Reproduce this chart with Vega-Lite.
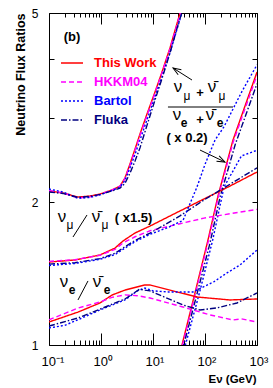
{
"$schema": "https://vega.github.io/schema/vega-lite/v6.json",
"width": 208, "height": 332,
"autosize": {"type": "none"},
"padding": {"left": 49, "top": 13, "right": 16, "bottom": 43},
"background": "white",
"config": {"view": {"stroke": null}, "font": "Liberation Sans",
  "axis": {"grid": false, "domainColor": "black", "tickColor": "black", "labelColor": "black", "titleColor": "black", "domainWidth": 1, "tickWidth": 1}},
"datasets": {
"curves": [
{"s":"This Work","g":"top","E":0.1,"v":2.11},{"s":"This Work","g":"top","E":0.186,"v":2.089},{"s":"This Work","g":"top","E":0.361,"v":2.049},{"s":"This Work","g":"top","E":0.614,"v":2.059},{"s":"This Work","g":"top","E":0.957,"v":2.079},{"s":"This Work","g":"top","E":1.627,"v":2.12},{"s":"This Work","g":"top","E":2.32,"v":2.161},{"s":"This Work","g":"top","E":2.89,"v":2.247},{"s":"This Work","g":"top","E":3.61,"v":2.405},{"s":"This Work","g":"top","E":4.51,"v":2.585},{"s":"This Work","g":"top","E":5.62,"v":2.781},{"s":"This Work","g":"top","E":7.66,"v":3.064},{"s":"This Work","g":"top","E":10.93,"v":3.409},{"s":"This Work","g":"top","E":14.9,"v":3.755},{"s":"This Work","g":"top","E":21.2,"v":4.22},{"s":"This Work","g":"top","E":30.3,"v":4.833},{"s":"This Work","g":"top","E":36.1,"v":5.17},
{"s":"HKKM04","g":"top","E":0.1,"v":2.115},{"s":"HKKM04","g":"top","E":0.186,"v":2.09},{"s":"HKKM04","g":"top","E":0.361,"v":2.04},{"s":"HKKM04","g":"top","E":0.614,"v":2.05},{"s":"HKKM04","g":"top","E":0.957,"v":2.075},{"s":"HKKM04","g":"top","E":1.627,"v":2.12},{"s":"HKKM04","g":"top","E":2.32,"v":2.16},{"s":"HKKM04","g":"top","E":2.89,"v":2.24},{"s":"HKKM04","g":"top","E":3.61,"v":2.39},{"s":"HKKM04","g":"top","E":4.51,"v":2.57},{"s":"HKKM04","g":"top","E":5.62,"v":2.76},{"s":"HKKM04","g":"top","E":7.66,"v":3.04},{"s":"HKKM04","g":"top","E":10.93,"v":3.39},{"s":"HKKM04","g":"top","E":14.9,"v":3.74},{"s":"HKKM04","g":"top","E":21.2,"v":4.2},{"s":"HKKM04","g":"top","E":30.3,"v":4.8},{"s":"HKKM04","g":"top","E":37,"v":5.2},
{"s":"Bartol","g":"top","E":0.1,"v":2.13},{"s":"Bartol","g":"top","E":0.186,"v":2.1},{"s":"Bartol","g":"top","E":0.361,"v":2.035},{"s":"Bartol","g":"top","E":0.614,"v":2.045},{"s":"Bartol","g":"top","E":0.957,"v":2.07},{"s":"Bartol","g":"top","E":1.627,"v":2.115},{"s":"Bartol","g":"top","E":2.32,"v":2.15},{"s":"Bartol","g":"top","E":2.89,"v":2.22},{"s":"Bartol","g":"top","E":3.61,"v":2.36},{"s":"Bartol","g":"top","E":4.51,"v":2.52},{"s":"Bartol","g":"top","E":5.62,"v":2.7},{"s":"Bartol","g":"top","E":7.66,"v":2.98},{"s":"Bartol","g":"top","E":10.93,"v":3.33},{"s":"Bartol","g":"top","E":14.9,"v":3.67},{"s":"Bartol","g":"top","E":21.2,"v":4.12},{"s":"Bartol","g":"top","E":30.3,"v":4.7},{"s":"Bartol","g":"top","E":40,"v":5.2},
{"s":"Fluka","g":"top","E":0.1,"v":2.1},{"s":"Fluka","g":"top","E":0.186,"v":2.085},{"s":"Fluka","g":"top","E":0.361,"v":2.045},{"s":"Fluka","g":"top","E":0.614,"v":2.055},{"s":"Fluka","g":"top","E":0.957,"v":2.075},{"s":"Fluka","g":"top","E":1.627,"v":2.11},{"s":"Fluka","g":"top","E":2.32,"v":2.14},{"s":"Fluka","g":"top","E":2.89,"v":2.19},{"s":"Fluka","g":"top","E":3.61,"v":2.3},{"s":"Fluka","g":"top","E":4.51,"v":2.44},{"s":"Fluka","g":"top","E":5.62,"v":2.6},{"s":"Fluka","g":"top","E":7.66,"v":2.9},{"s":"Fluka","g":"top","E":10.93,"v":3.28},{"s":"Fluka","g":"top","E":14.9,"v":3.64},{"s":"Fluka","g":"top","E":21.2,"v":4.12},{"s":"Fluka","g":"top","E":30.3,"v":4.72},{"s":"Fluka","g":"top","E":40,"v":5.2},
{"s":"This Work","g":"hi","E":30.3,"v":0.925},{"s":"This Work","g":"hi","E":36.1,"v":1.0},{"s":"This Work","g":"hi","E":64.2,"v":1.287},{"s":"This Work","g":"hi","E":114.2,"v":1.664},{"s":"This Work","g":"hi","E":177.8,"v":2.06},{"s":"This Work","g":"hi","E":345.6,"v":2.701},{"s":"This Work","g":"hi","E":1000,"v":3.755},
{"s":"HKKM04","g":"hi","E":31,"v":0.925},{"s":"HKKM04","g":"hi","E":37,"v":1.0},{"s":"HKKM04","g":"hi","E":66,"v":1.29},{"s":"HKKM04","g":"hi","E":117,"v":1.66},{"s":"HKKM04","g":"hi","E":182,"v":2.06},{"s":"HKKM04","g":"hi","E":350,"v":2.68},{"s":"HKKM04","g":"hi","E":1000,"v":3.7},
{"s":"Fluka","g":"hi","E":33,"v":0.925},{"s":"Fluka","g":"hi","E":39,"v":1.0},{"s":"Fluka","g":"hi","E":70,"v":1.28},{"s":"Fluka","g":"hi","E":125,"v":1.64},{"s":"Fluka","g":"hi","E":195,"v":2.05},{"s":"Fluka","g":"hi","E":380,"v":2.64},{"s":"Fluka","g":"hi","E":1000,"v":3.55},
{"s":"Bartol","g":"hi","E":36,"v":0.925},{"s":"Bartol","g":"hi","E":42,"v":1.0},{"s":"Bartol","g":"hi","E":80,"v":1.3},{"s":"Bartol","g":"hi","E":140,"v":1.66},{"s":"Bartol","g":"hi","E":231.7,"v":2.15},{"s":"Bartol","g":"hi","E":500,"v":2.5},{"s":"Bartol","g":"hi","E":1000,"v":2.57},
{"s":"This Work","g":"mu","E":0.1,"v":1.495},{"s":"This Work","g":"mu","E":0.316,"v":1.51},{"s":"This Work","g":"mu","E":0.957,"v":1.547},{"s":"This Work","g":"mu","E":1.86,"v":1.6},{"s":"This Work","g":"mu","E":2.65,"v":1.656},{"s":"This Work","g":"mu","E":4.51,"v":1.721},{"s":"This Work","g":"mu","E":8.76,"v":1.78},{"s":"This Work","g":"mu","E":33,"v":1.915},{"s":"This Work","g":"mu","E":95.7,"v":2.03},{"s":"This Work","g":"mu","E":302.6,"v":2.161},{"s":"This Work","g":"mu","E":1000,"v":2.313},
{"s":"HKKM04","g":"mu","E":0.1,"v":1.5},{"s":"HKKM04","g":"mu","E":0.316,"v":1.512},{"s":"HKKM04","g":"mu","E":0.957,"v":1.545},{"s":"HKKM04","g":"mu","E":1.86,"v":1.59},{"s":"HKKM04","g":"mu","E":2.65,"v":1.64},{"s":"HKKM04","g":"mu","E":4.51,"v":1.69},{"s":"HKKM04","g":"mu","E":8.76,"v":1.74},{"s":"HKKM04","g":"mu","E":33,"v":1.8},{"s":"HKKM04","g":"mu","E":95.7,"v":1.85},{"s":"HKKM04","g":"mu","E":302.6,"v":1.89},{"s":"HKKM04","g":"mu","E":1000,"v":1.93},
{"s":"Fluka","g":"mu","E":0.1,"v":1.48},{"s":"Fluka","g":"mu","E":0.316,"v":1.49},{"s":"Fluka","g":"mu","E":0.957,"v":1.52},{"s":"Fluka","g":"mu","E":1.86,"v":1.56},{"s":"Fluka","g":"mu","E":2.65,"v":1.6},{"s":"Fluka","g":"mu","E":4.51,"v":1.66},{"s":"Fluka","g":"mu","E":8.76,"v":1.72},{"s":"Fluka","g":"mu","E":33,"v":1.87},{"s":"Fluka","g":"mu","E":95.7,"v":2.02},{"s":"Fluka","g":"mu","E":302.6,"v":2.18},{"s":"Fluka","g":"mu","E":1000,"v":2.36},
{"s":"Bartol","g":"mu","E":0.1,"v":1.47},{"s":"Bartol","g":"mu","E":0.316,"v":1.485},{"s":"Bartol","g":"mu","E":0.957,"v":1.515},{"s":"Bartol","g":"mu","E":1.86,"v":1.55},{"s":"Bartol","g":"mu","E":2.65,"v":1.59},{"s":"Bartol","g":"mu","E":4.51,"v":1.65},{"s":"Bartol","g":"mu","E":8.76,"v":1.71},{"s":"Bartol","g":"mu","E":20,"v":1.77},{"s":"Bartol","g":"mu","E":37.8,"v":1.83},{"s":"Bartol","g":"mu","E":70,"v":2.15},{"s":"Bartol","g":"mu","E":100,"v":2.4},{"s":"Bartol","g":"mu","E":155.6,"v":2.7},{"s":"Bartol","g":"mu","E":231.7,"v":2.88},{"s":"Bartol","g":"mu","E":500,"v":3.4},{"s":"Bartol","g":"mu","E":1000,"v":3.89},
{"s":"This Work","g":"e","E":0.1,"v":1.118},{"s":"This Work","g":"e","E":0.361,"v":1.173},{"s":"This Work","g":"e","E":0.957,"v":1.226},{"s":"This Work","g":"e","E":1.627,"v":1.274},{"s":"This Work","g":"e","E":2.89,"v":1.305},{"s":"This Work","g":"e","E":7.01,"v":1.338},{"s":"This Work","g":"e","E":8.76,"v":1.338},{"s":"This Work","g":"e","E":21.2,"v":1.305},{"s":"This Work","g":"e","E":70,"v":1.262},{"s":"This Work","g":"e","E":302.6,"v":1.244},{"s":"This Work","g":"e","E":1000,"v":1.25},
{"s":"HKKM04","g":"e","E":0.1,"v":1.13},{"s":"HKKM04","g":"e","E":0.361,"v":1.196},{"s":"HKKM04","g":"e","E":0.957,"v":1.232},{"s":"HKKM04","g":"e","E":1.627,"v":1.26},{"s":"HKKM04","g":"e","E":2.89,"v":1.275},{"s":"HKKM04","g":"e","E":5,"v":1.27},{"s":"HKKM04","g":"e","E":8.76,"v":1.256},{"s":"HKKM04","g":"e","E":37.8,"v":1.202},{"s":"HKKM04","g":"e","E":124.7,"v":1.157},{"s":"HKKM04","g":"e","E":345,"v":1.129},{"s":"HKKM04","g":"e","E":500,"v":1.135},{"s":"HKKM04","g":"e","E":1000,"v":1.118},
{"s":"Bartol","g":"e","E":0.1,"v":1.086},{"s":"Bartol","g":"e","E":0.2,"v":1.1},{"s":"Bartol","g":"e","E":0.361,"v":1.13},{"s":"Bartol","g":"e","E":0.957,"v":1.185},{"s":"Bartol","g":"e","E":2.89,"v":1.244},{"s":"Bartol","g":"e","E":5,"v":1.3},{"s":"Bartol","g":"e","E":7,"v":1.318},{"s":"Bartol","g":"e","E":10,"v":1.3},{"s":"Bartol","g":"e","E":20,"v":1.293},{"s":"Bartol","g":"e","E":58.8,"v":1.293},{"s":"Bartol","g":"e","E":150,"v":1.36},{"s":"Bartol","g":"e","E":264.7,"v":1.418},{"s":"Bartol","g":"e","E":471,"v":1.474},{"s":"Bartol","g":"e","E":1000,"v":1.585},
{"s":"Fluka","g":"e","E":0.1,"v":1.096},{"s":"Fluka","g":"e","E":0.361,"v":1.14},{"s":"Fluka","g":"e","E":0.957,"v":1.19},{"s":"Fluka","g":"e","E":2.89,"v":1.25},{"s":"Fluka","g":"e","E":5.5,"v":1.31},{"s":"Fluka","g":"e","E":8.76,"v":1.3},{"s":"Fluka","g":"e","E":37.8,"v":1.214},{"s":"Fluka","g":"e","E":80.2,"v":1.185},{"s":"Fluka","g":"e","E":170,"v":1.197},{"s":"Fluka","g":"e","E":412,"v":1.226},{"s":"Fluka","g":"e","E":1000,"v":1.287}
],
"bold13": [
{"x":0.277,"y":4.45,"t":"(b)"},
{"x":45.1,"y":2.728,"t":"( x 0.2)"},
{"x":4.22,"y":1.851,"t":"( x1.5)"},
{"x":80.2,"y":3.4,"t":"+"},
{"x":80.2,"y":2.97,"t":"+"}
],
"nu": [
{"x":30.3,"y":3.493,"t":"ν"},
{"x":136.5,"y":3.493,"t":"ν̄"},
{"x":28.9,"y":3.05,"t":"ν"},
{"x":124.7,"y":3.05,"t":"ν̄"},
{"x":0.178,"y":1.86,"t":"ν"},
{"x":0.801,"y":1.86,"t":"ν̄"},
{"x":0.1943,"y":1.358,"t":"ν"},
{"x":0.8378,"y":1.358,"t":"ν̄"}
],
"submu": [
{"x":45.1,"y":3.343,"t":"μ"},
{"x":212.3,"y":3.343,"t":"μ"},
{"x":0.2535,"y":1.789,"t":"μ"},
{"x":1.194,"y":1.789,"t":"μ"}
],
"sube": [
{"x":39.5,"y":2.933,"t":"e"},
{"x":194.2,"y":2.933,"t":"e"},
{"x":0.277,"y":1.306,"t":"e"},
{"x":1.304,"y":1.306,"t":"e"}
],
"rules": [
{"x":19.4,"y":3.17,"x2":345.6,"y2":3.17},
{"x":0.2893,"y":1.688,"x2":0.538,"y2":1.878},
{"x":0.361,"y":1.244,"x2":0.5623,"y2":1.364},
{"x":56.2,"y":3.613,"x2":24.25,"y2":3.83},
{"x":80.2,"y":2.573,"x2":242.5,"y2":2.428}
]
},
"layer": [
{
"data": {"name": "curves"},
"mark": {"type": "line", "clip": true, "strokeWidth": 1.4},
"encoding": {
"x": {"field": "E", "type": "quantitative", "scale": {"type": "log", "domain": [0.1, 1000], "nice": false},
 "axis": {"orient": "bottom", "values": [0.1,0.2,0.3,0.4,0.5,0.6,0.7,0.8,0.9,1,2,3,4,5,6,7,8,9,10,20,30,40,50,60,70,80,90,100,200,300,400,500,600,700,800,900,1000],
  "labelExpr": "datum.value==0.1?'10⁻¹':datum.value==1?'10⁰':datum.value==10?'10¹':datum.value==100?'10²':datum.value==1000?'10³':''",
  "tickSize": {"condition": {"test": "datum.value==0.1||datum.value==1||datum.value==10||datum.value==100||datum.value==1000", "value": -12}, "value": -5},
  "labelPadding": 22, "labelFontSize": 13, "labelAlign": "left", "labelOffset": -8, "labelFlush": false, "labelOverlap": false, "labelBound": false,
  "title": "Eν (GeV)", "titleFontSize": 11.5, "titleFontWeight": "bold", "titleAlign": "right", "titleX": 207, "titleY": 37, "titleBaseline": "alphabetic"}},
"y": {"field": "v", "type": "quantitative", "scale": {"type": "log", "domain": [1, 5], "nice": false},
 "axis": {"orient": "left", "values": [1,2,3,4,5], "labelExpr": "datum.value==1||datum.value==2||datum.value==5?datum.value:''",
  "tickSize": -5, "labelPadding": 16, "labelFontSize": 12, "labelFlush": false, "labelOverlap": false, "labelBound": false,
  "title": "Neutrino Flux Ratios", "titleFontSize": 12.5, "titleFontWeight": "bold", "titleAngle": -90, "titleAlign": "right", "titleBaseline": "alphabetic", "titleX": -25, "titleY": 0}},
"color": {"field": "s", "type": "nominal", "scale": {"domain": ["This Work","HKKM04","Bartol","Fluka"], "range": ["#ff0000","#ff00ff","#0000ff","#000080"]},
 "legend": {"orient": "none", "legendX": 11, "legendY": 38, "title": null, "symbolType": "stroke", "symbolSize": 484, "symbolStrokeWidth": 1.5, "labelFontSize": 13, "labelFontWeight": "bold", "labelOffset": 10, "rowPadding": -2, "padding": 0,
  "encode": {"labels": {"update": {"fill": {"scale": "color", "field": "value"}}}}}},
"strokeDash": {"field": "s", "type": "nominal", "scale": {"domain": ["This Work","HKKM04","Bartol","Fluka"], "range": [[1,0],[5,3],[2,2],[6,2,1.5,2]]},
 "legend": {"orient": "none", "legendX": 11, "legendY": 38, "title": null, "symbolType": "stroke", "symbolSize": 484, "symbolStrokeWidth": 1.5, "labelFontSize": 13, "labelFontWeight": "bold", "labelOffset": 10, "rowPadding": -2, "padding": 0,
  "encode": {"labels": {"update": {"fill": {"scale": "color", "field": "value"}}}}}},
"detail": {"field": "g"},
"order": {"field": "E", "type": "quantitative"}
}
},
{
"data": {"name": "rules"},
"mark": {"type": "rule", "color": "black", "strokeWidth": 1},
"encoding": {
"x": {"field": "x", "type": "quantitative", "scale": {"type": "log", "domain": [0.1, 1000], "nice": false},
 "axis": {"orient": "top", "values": [0.1,0.2,0.3,0.4,0.5,0.6,0.7,0.8,0.9,1,2,3,4,5,6,7,8,9,10,20,30,40,50,60,70,80,90,100,200,300,400,500,600,700,800,900,1000], "labels": false, "title": null,
  "tickSize": {"condition": {"test": "datum.value==0.1||datum.value==1||datum.value==10||datum.value==100||datum.value==1000", "value": -11}, "value": -4}}},
"y": {"field": "y", "type": "quantitative", "scale": {"type": "log", "domain": [1, 5], "nice": false},
 "axis": {"orient": "right", "values": [1,2,3,4,5], "labels": false, "title": null, "tickSize": -5}},
"x2": {"field": "x2"},
"y2": {"field": "y2"}
}
},
{
"data": {"name": "bold13"},
"mark": {"type": "text", "fontSize": 13, "fontWeight": "bold", "color": "black", "align": "center", "baseline": "middle"},
"encoding": {"x": {"field": "x", "type": "quantitative", "axis": null}, "y": {"field": "y", "type": "quantitative", "axis": null}, "text": {"field": "t"}}
},
{
"data": {"name": "nu"},
"mark": {"type": "text", "fontSize": 17, "color": "black", "align": "center", "baseline": "middle"},
"encoding": {"x": {"field": "x", "type": "quantitative", "axis": null}, "y": {"field": "y", "type": "quantitative", "axis": null}, "text": {"field": "t"}}
},
{
"data": {"name": "submu"},
"mark": {"type": "text", "fontSize": 12, "color": "black", "align": "center", "baseline": "middle"},
"encoding": {"x": {"field": "x", "type": "quantitative", "axis": null}, "y": {"field": "y", "type": "quantitative", "axis": null}, "text": {"field": "t"}}
},
{
"data": {"name": "sube"},
"mark": {"type": "text", "fontSize": 12, "fontWeight": "bold", "color": "black", "align": "center", "baseline": "middle"},
"encoding": {"x": {"field": "x", "type": "quantitative", "axis": null}, "y": {"field": "y", "type": "quantitative", "axis": null}, "text": {"field": "t"}}
},
{
"data": {"values": [{"x": 24.25, "y": 3.83}]},
"mark": {"type": "point", "shape": "M-1.6,-0.6L0,0L-1.6,0.6", "filled": false, "stroke": "black", "strokeWidth": 1, "size": 100, "angle": 212, "opacity": 1},
"encoding": {"x": {"field": "x", "type": "quantitative", "axis": null}, "y": {"field": "y", "type": "quantitative", "axis": null}}
},
{
"data": {"values": [{"x": 242.5, "y": 2.428}]},
"mark": {"type": "point", "shape": "M-1.6,-0.6L0,0L-1.6,0.6", "filled": false, "stroke": "black", "strokeWidth": 1, "size": 100, "angle": 26, "opacity": 1},
"encoding": {"x": {"field": "x", "type": "quantitative", "axis": null}, "y": {"field": "y", "type": "quantitative", "axis": null}}
}
],
"resolve": {"axis": {"x": "independent", "y": "independent"}}
}
